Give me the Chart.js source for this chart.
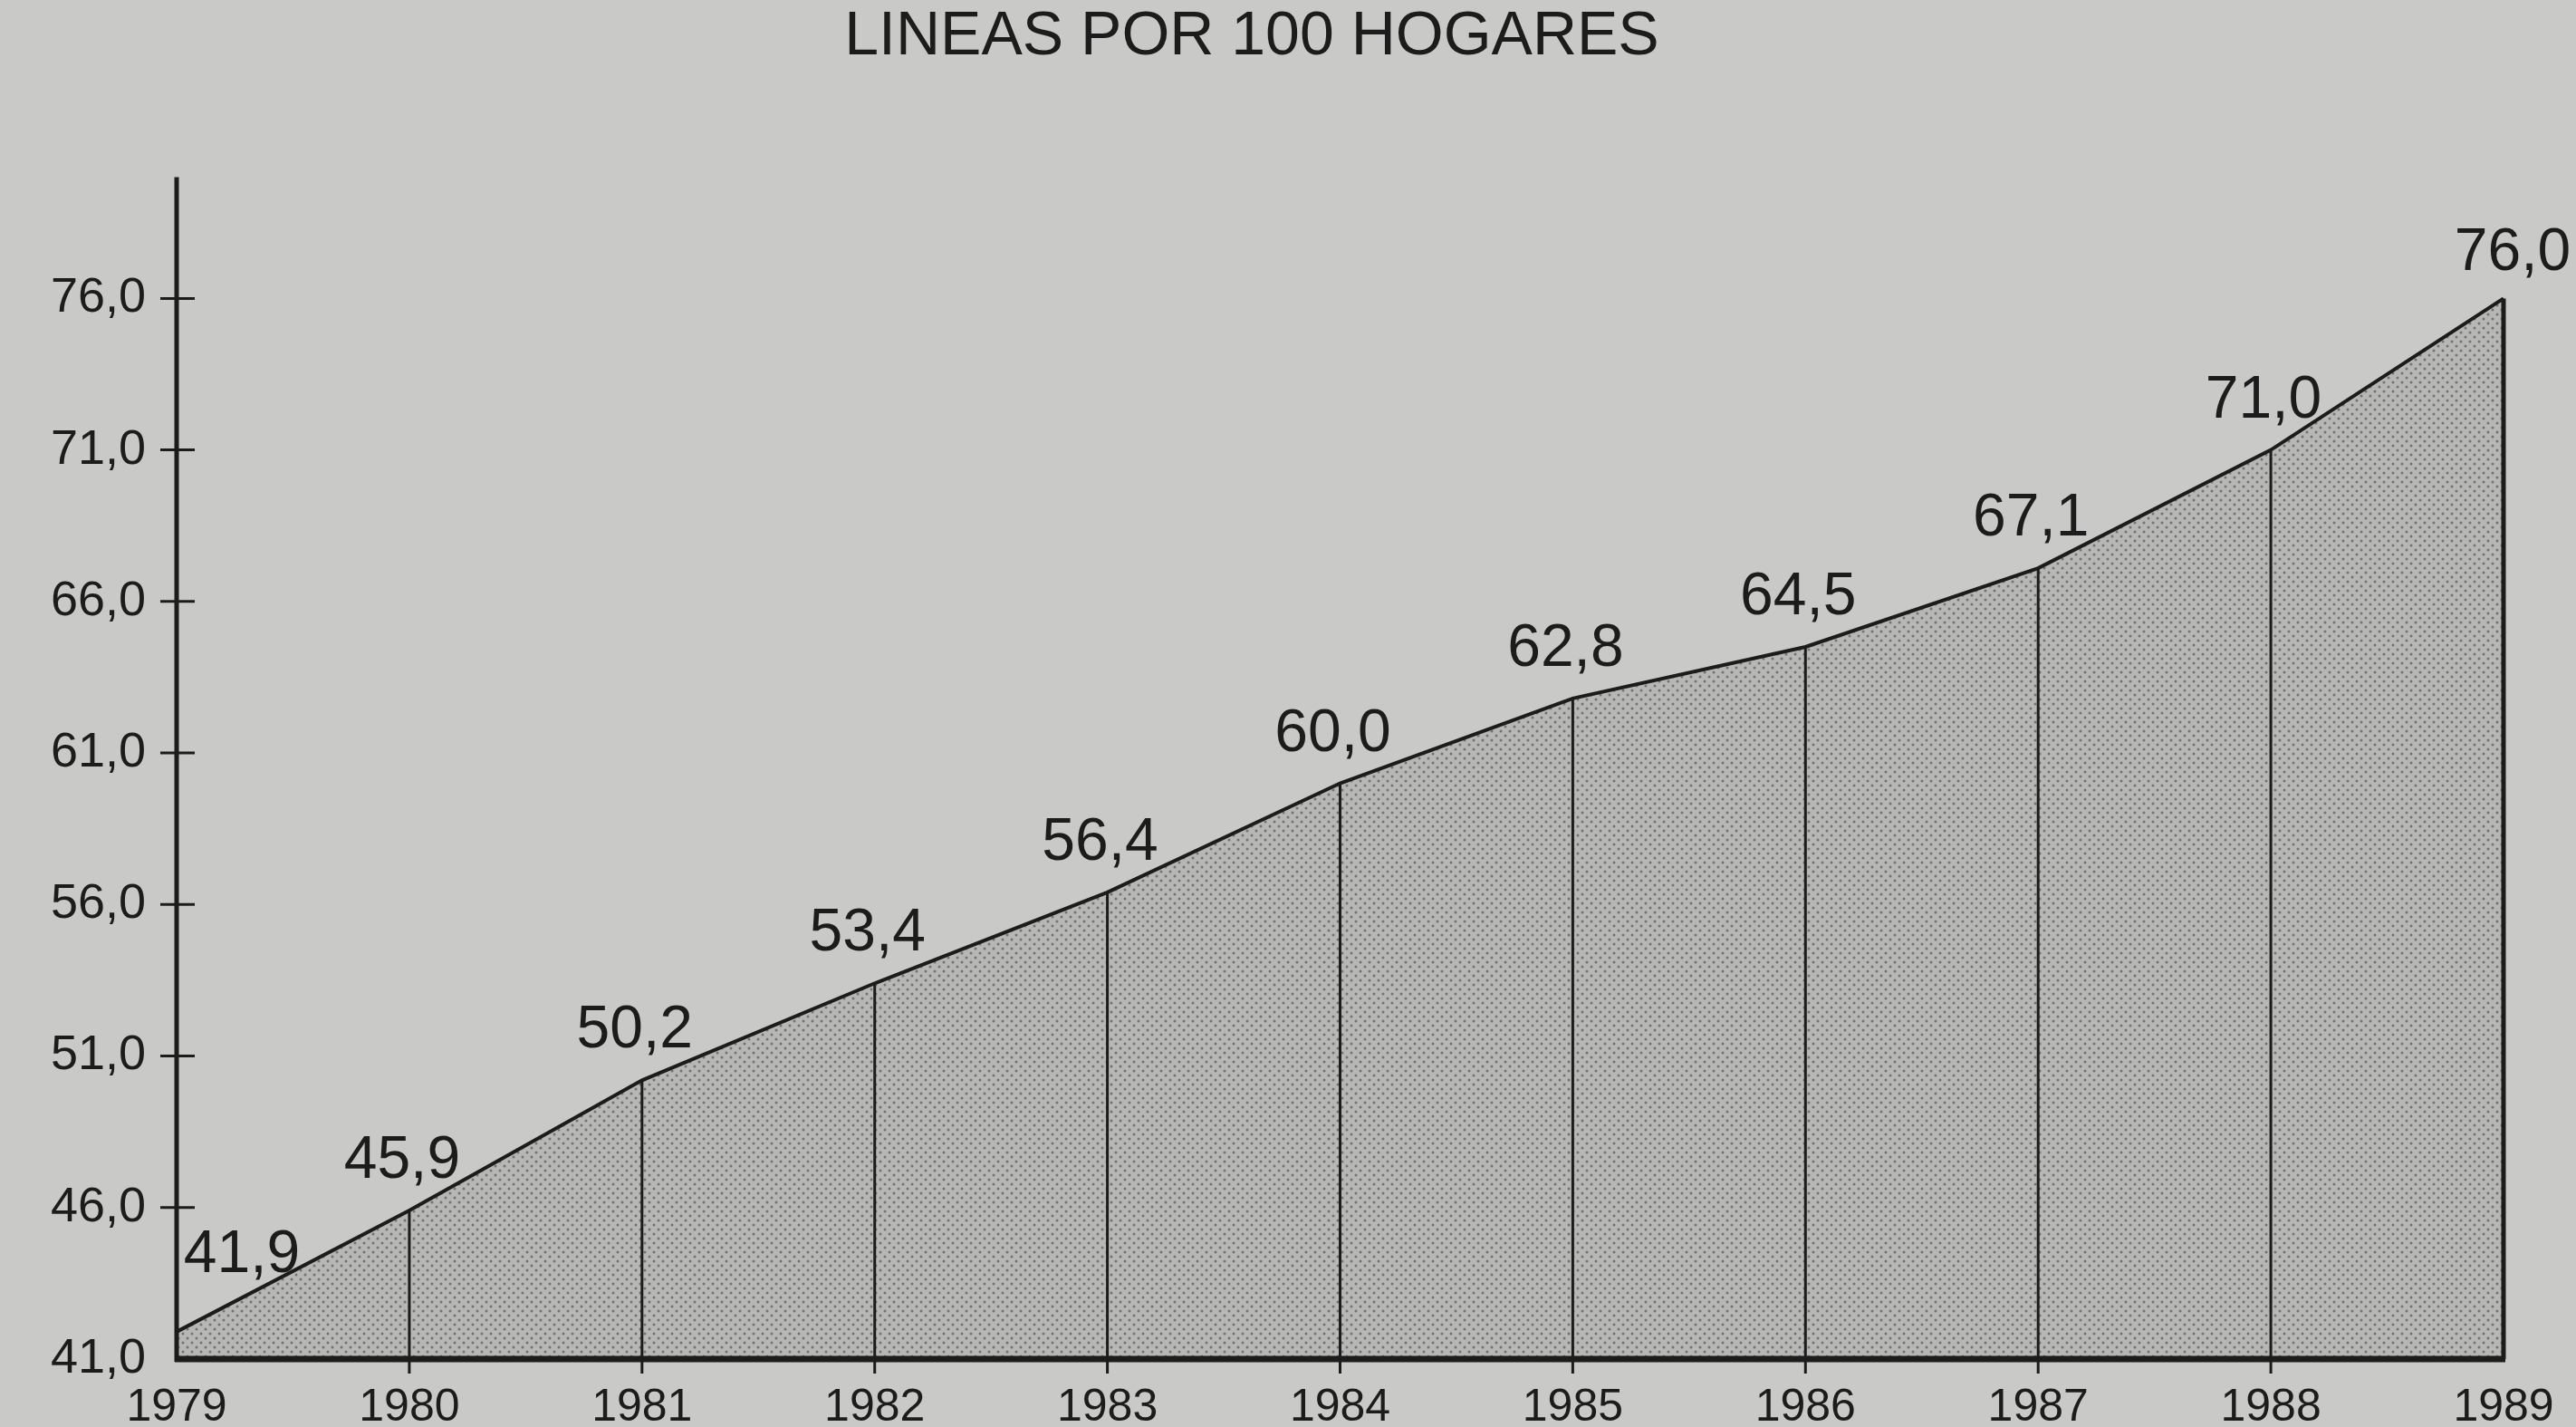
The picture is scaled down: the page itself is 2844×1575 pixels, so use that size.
<!DOCTYPE html>
<html>
<head>
<meta charset="utf-8">
<title>Lineas por 100 hogares</title>
<script src="https://cdn.jsdelivr.net/npm/chart.js@4.4.1/dist/chart.umd.min.js"></script>
<style>
    html, body { margin: 0; padding: 0; background: #c9c9c7; }
    #wrap { width: 2844px; height: 1575px; }
</style>
</head>
<body>
<div id="wrap"><canvas id="lineChart" width="2844" height="1575"></canvas></div>
<script>
/* ======= Data ======= */
const years = ['1979', '1980', '1981', '1982', '1983', '1984', '1985', '1986', '1987', '1988', '1989'];
const lineas = [41.9, 45.9, 50.2, 53.4, 56.4, 60.0, 62.8, 64.5, 67.1, 71.0, 76.0];
const yTicks = [41, 46, 51, 56, 61, 66, 71, 76];

const inkColor = '#1c1c1c';
const fontFamily = "'Liberation Sans', Arial, sans-serif";

function fmt(v) {
    return v.toFixed(1).replace('.', ',');
}

// stipple texture for the shaded area
function stipple() {
    const c = document.createElement('canvas');
    c.width = 10;
    c.height = 10;
    const g = c.getContext('2d');
    g.fillStyle = '#b7b7b5';
    g.fillRect(0, 0, 10, 10);
    g.fillStyle = '#737371';
    [[2, 2], [7, 7]].forEach(function (p) {
        g.beginPath();
        g.arc(p[0], p[1], 1.5, 0, Math.PI * 2);
        g.fill();
    });
    return g.createPattern(c, 'repeat');
}

/* ======= Axis lines, drop lines and value labels ======= */
const drawing = {
    id: 'drawing',
    afterDatasetsDraw(chart) {
        const ctx = chart.ctx;
        const area = chart.chartArea;
        const y = chart.scales.y;
        const pts = chart.getDatasetMeta(0).data;
        ctx.save();
        ctx.strokeStyle = inkColor;
        ctx.lineCap = 'butt';

        // vertical drop lines
        pts.forEach(function (p, i) {
            if (i === 0) return;
            const last = i === pts.length - 1;
            ctx.lineWidth = last ? 5 : 3;
            ctx.beginPath();
            ctx.moveTo(p.x, p.y);
            ctx.lineTo(p.x, area.bottom + (last ? 0 : 16));
            ctx.stroke();
        });

        // y axis
        ctx.lineWidth = 5;
        ctx.beginPath();
        ctx.moveTo(area.left, area.top);
        ctx.lineTo(area.left, area.bottom + 3);
        ctx.stroke();

        // tick crosses
        ctx.lineWidth = 3;
        yTicks.forEach(function (v) {
            if (v === yTicks[0]) return;
            const py = y.getPixelForValue(v);
            ctx.beginPath();
            ctx.moveTo(area.left - 18, py);
            ctx.lineTo(area.left + 20, py);
            ctx.stroke();
        });

        // base line
        ctx.lineWidth = 7;
        ctx.beginPath();
        ctx.moveTo(area.left - 2, area.bottom);
        ctx.lineTo(area.right + 2, area.bottom);
        ctx.stroke();

        // value labels
        ctx.fillStyle = inkColor;
        ctx.font = '66px ' + fontFamily;
        ctx.textAlign = 'center';
        ctx.textBaseline = 'middle';
        pts.forEach(function (p, i) {
            let dx = -8, dy = -54;
            if (i === 0) { dx = 72; dy = -84; }
            if (i === pts.length - 1) { dx = 10; dy = -50; }
            ctx.fillText(fmt(lineas[i]), p.x + dx, p.y + dy);
        });
        ctx.restore();
    }
};

/* ======= Chart ======= */
const ctx = document.getElementById('lineChart');
new Chart(ctx, {
    type: 'line',
    data: {
        labels: years,
        datasets: [{
            data: lineas,
            borderColor: inkColor,
            borderWidth: 4,
            backgroundColor: stipple(),
            fill: 'start',
            tension: 0,
            pointRadius: 0,
        }],
    },
    options: {
        responsive: false,
        devicePixelRatio: 1,
        animation: false,
        layout: {
            padding: { left: 0, right: 80, top: 0, bottom: 0 },
        },
        plugins: {
            legend: { display: false },
            tooltip: { enabled: false },
            title: {
                display: true,
                text: 'LINEAS POR 100 HOGARES',
                color: inkColor,
                font: { family: fontFamily, size: 68, weight: 'normal' },
                padding: { top: 0, bottom: 114 },
            },
        },
        scales: {
            x: {
                offset: false,
                grid: { display: false, drawTicks: false },
                border: { display: false },
                ticks: {
                    color: inkColor,
                    font: { family: fontFamily, size: 50 },
                    padding: 24,
                    maxRotation: 0,
                    autoSkip: false,
                },
                afterFit(scale) {
                    scale.height = 75;
                },
            },
            y: {
                min: 41,
                max: 80,
                grid: { display: false, drawTicks: false },
                border: { display: false },
                afterBuildTicks(axis) {
                    axis.ticks = yTicks.map(function (v) { return { value: v }; });
                },
                ticks: {
                    color: inkColor,
                    font: { family: fontFamily, size: 54 },
                    padding: 34,
                    callback(value) {
                        return fmt(value);
                    },
                },
                afterFit(scale) {
                    scale.width = 195;
                },
            },
        },
    },
    plugins: [drawing],
});
</script>
</body>
</html>
